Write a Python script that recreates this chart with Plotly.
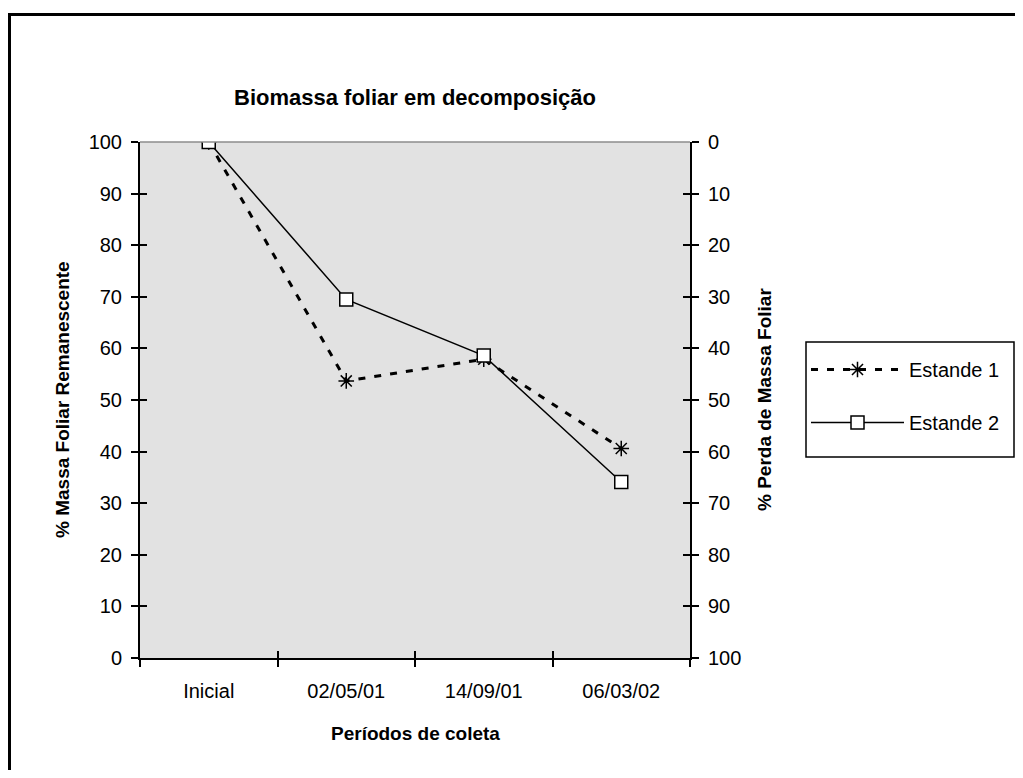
import plotly.graph_objects as go

# data
periodos = ["Inicial", "02/05/01", "14/09/01", "06/03/02"]
estande_1 = [100.0, 53.7, 57.9, 40.6]
estande_2 = [100.0, 69.5, 58.6, 34.1]
y_ticks = list(range(0, 101, 10))

# the page body adds an 8px margin, so the figure sits at (8, 8) in the window;
# keep it small enough that the page does not scroll
OFF = 8
W, H = 1023 - 2 * OFF, 778 - 2 * OFF
# plot area in window pixels: x 140..690, y 142..658
L, T = 140 - OFF, 142 - OFF
R, B = W - (690 - OFF), H - (658 - OFF)
pw, ph = W - L - R, H - T - B


def px_x(px):
    # window pixel -> paper x
    return (px - OFF - L) / pw


def px_y(py):
    # window pixel -> paper y
    return (H - B - (py - OFF)) / ph


FONT = "Liberation Sans, Arial, sans-serif"

fig = go.Figure()

fig.add_trace(go.Scatter(
    x=periodos, y=estande_1, name="Estande 1", mode="lines+markers",
    line=dict(color="black", width=3, dash="7px,9px"),
    marker=dict(symbol="asterisk-open", size=13, color="black",
                line=dict(color="black", width=1.5)),
    legendgroup="e1",
))
fig.add_trace(go.Scatter(
    x=periodos, y=estande_2, name="Estande 2", mode="lines+markers",
    line=dict(color="black", width=1.5),
    marker=dict(symbol="square", size=13, color="white",
                line=dict(color="black", width=1.5)),
    legendgroup="e2",
))

axis_common = dict(showgrid=False, zeroline=False, color="black",
                   tickfont=dict(family=FONT, size=20, color="black"))
overlay_ticks = dict(ticks="inside", ticklen=7, tickwidth=1.5, tickcolor="black",
                     showticklabels=False, showline=False, showgrid=False,
                     zeroline=False)

fig.update_layout(
    width=W, height=H,
    margin=dict(l=L, r=R, t=T, b=B, autoexpand=False),
    paper_bgcolor="white", plot_bgcolor="#E2E2E2",
    font=dict(family=FONT, color="black"),
    title=dict(text="<b>Biomassa foliar em decomposição</b>",
               x=0.5, xref="paper", xanchor="center",
               y=1 - (97 - OFF) / H, yref="container", yanchor="middle",
               font=dict(size=22, family=FONT)),
    xaxis=dict(type="category", categoryarray=periodos, range=[-0.5, 3.5],
               tickson="boundaries", ticks="outside", ticklen=7, tickwidth=1.5,
               showline=True, linewidth=2, linecolor="black",
               ticklabelstandoff=14, **axis_common),
    xaxis2=dict(type="category", categoryarray=periodos, range=[-0.5, 3.5],
                overlaying="x", side="bottom", tickson="boundaries",
                **overlay_ticks),
    yaxis=dict(range=[0, 100], tickvals=y_ticks, ticks="outside", ticklen=7,
               tickwidth=1.5, showline=True, linewidth=2, linecolor="black",
               ticklabelstandoff=5, **axis_common),
    yaxis2=dict(range=[100, 0], tickvals=y_ticks, overlaying="y", side="right",
                ticks="outside", ticklen=7, tickwidth=1.5, showline=True,
                linewidth=2, linecolor="black", ticklabelstandoff=5,
                **axis_common),
    yaxis3=dict(range=[0, 100], tickvals=y_ticks, overlaying="y", side="left",
                **overlay_ticks),
    yaxis4=dict(range=[0, 100], tickvals=y_ticks, overlaying="y", side="right",
                **overlay_ticks),
    legend=dict(x=px_x(806), xanchor="left", y=px_y(350), yanchor="top",
                bgcolor="rgba(0,0,0,0)", borderwidth=0,
                font=dict(family=FONT, size=20, color="black"),
                tracegroupgap=24, itemwidth=93),
    showlegend=True,
)

# invisible traces so the overlay tick axes get drawn
for xa, ya in [("x2", "y3"), ("x2", "y4")]:
    fig.add_trace(go.Scatter(x=[periodos[0]], y=[None], xaxis=xa, yaxis=ya,
                             showlegend=False, hoverinfo="skip"))
fig.add_trace(go.Scatter(x=[periodos[0]], y=[None], yaxis="y2",
                         showlegend=False, hoverinfo="skip"))

annot_font = dict(family=FONT, size=19, color="black")
fig.add_annotation(text="<b>% Massa Foliar Remanescente</b>", textangle=-90,
                   xref="paper", yref="paper", x=px_x(62), y=0.5,
                   xanchor="center", yanchor="middle",
                   showarrow=False, font=annot_font)
fig.add_annotation(text="<b>% Perda de Massa Foliar</b>", textangle=-90,
                   xref="paper", yref="paper", x=px_x(764), y=0.5,
                   xanchor="center", yanchor="middle",
                   showarrow=False, font=annot_font)
fig.add_annotation(text="<b>Períodos de coleta</b>",
                   xref="paper", yref="paper", x=0.5, y=px_y(733),
                   xanchor="center", yanchor="middle",
                   showarrow=False, font=annot_font)

# legend frame
fig.add_shape(type="rect", xref="paper", yref="paper",
              x0=px_x(806), x1=px_x(1014), y0=px_y(342), y1=px_y(457),
              fillcolor="white", line=dict(color="black", width=1.5),
              layer="below")
# gray top border of plot area
fig.add_shape(type="line", xref="paper", yref="paper", x0=0, x1=1, y0=1, y1=1,
              line=dict(color="#8C8C8C", width=1.5))
# outer chart frame: only left and top edges fall inside the picture
frame = dict(color="black", width=3)
fig.add_shape(type="line", xref="paper", yref="paper",
              x0=px_x(9.5), x1=px_x(9.5), y0=px_y(13), y1=px_y(800),
              line=frame, layer="above")
fig.add_shape(type="line", xref="paper", yref="paper",
              x0=px_x(8), x1=px_x(1060), y0=px_y(14.5), y1=px_y(14.5),
              line=frame, layer="above")

fig.write_html("out.html")
